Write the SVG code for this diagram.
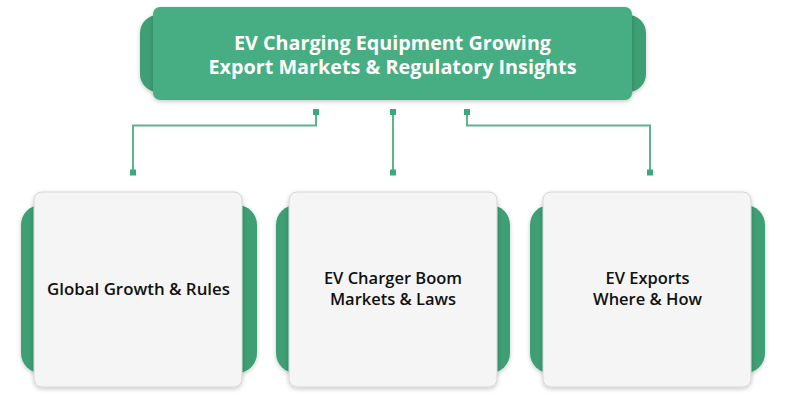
<svg xmlns="http://www.w3.org/2000/svg" width="787" height="415" viewBox="0 0 787 415">
<defs>
<filter id="sh" x="-10%" y="-10%" width="120%" height="125%">
<feDropShadow dx="0" dy="1.5" stdDeviation="2" flood-color="#000" flood-opacity="0.22"/>
</filter>
<style>
.back{fill:#3c9f73;}
.main{fill:#46ad82;}
.card{fill:#f5f5f5;stroke:#d6d6d6;stroke-width:1;}
.title{font-family:"Open Sans","Liberation Sans",sans-serif;font-weight:700;font-size:19px;fill:#ffffff;text-anchor:middle;}
.lbl{font-family:"Open Sans","Liberation Sans",sans-serif;font-weight:600;font-size:16.5px;fill:#111111;text-anchor:middle;}
.ln{fill:none;stroke:#5cb38d;stroke-width:2;}
.dot{fill:#3aa97b;}
</style>
</defs>
<rect width="787" height="415" fill="#ffffff"/>

<g id="root">
<rect class="back" x="140" y="15" width="506" height="77" rx="18" filter="url(#sh)"/>
<rect class="main" x="153" y="7" width="479" height="93" rx="7" filter="url(#sh)"/>
<text class="title" x="392.5" y="50" textLength="317" lengthAdjust="spacingAndGlyphs">EV Charging Equipment Growing</text>
<text class="title" x="392.5" y="74" textLength="368" lengthAdjust="spacingAndGlyphs">Export Markets &amp; Regulatory Insights</text>
</g>

<g id="connectors">
<polyline class="ln" points="316,112 316,125.5 133,125.5 133,172.5"/>
<line class="ln" x1="393" y1="112" x2="393" y2="172.5"/>
<polyline class="ln" points="467,112 467,125.5 650,125.5 650,172.5"/>
<rect class="dot" x="313" y="109" width="6" height="6"/>
<rect class="dot" x="390" y="109" width="6" height="6"/>
<rect class="dot" x="464" y="109" width="6" height="6"/>
<rect class="dot" x="130" y="169.5" width="6" height="6"/>
<rect class="dot" x="390" y="169.5" width="6" height="6"/>
<rect class="dot" x="647" y="169.5" width="6" height="6"/>
</g>

<g id="node1">
<rect class="back" x="21" y="205" width="236" height="168" rx="20" filter="url(#sh)"/>
<rect class="card" x="34" y="192" width="208" height="195" rx="8" filter="url(#sh)"/>
<text class="lbl" x="138.5" y="295" textLength="183" lengthAdjust="spacingAndGlyphs">Global Growth &amp; Rules</text>
</g>

<g id="node2">
<rect class="back" x="276" y="205" width="234" height="168" rx="20" filter="url(#sh)"/>
<rect class="card" x="289" y="192" width="208" height="195" rx="8" filter="url(#sh)"/>
<text class="lbl" x="393" y="284">EV Charger Boom</text>
<text class="lbl" x="393" y="305">Markets &amp; Laws</text>
</g>

<g id="node3">
<rect class="back" x="530" y="205" width="235" height="168" rx="20" filter="url(#sh)"/>
<rect class="card" x="543" y="192" width="208" height="195" rx="8" filter="url(#sh)"/>
<text class="lbl" x="647.5" y="284">EV Exports</text>
<text class="lbl" x="647.5" y="305">Where &amp; How</text>
</g>
</svg>
